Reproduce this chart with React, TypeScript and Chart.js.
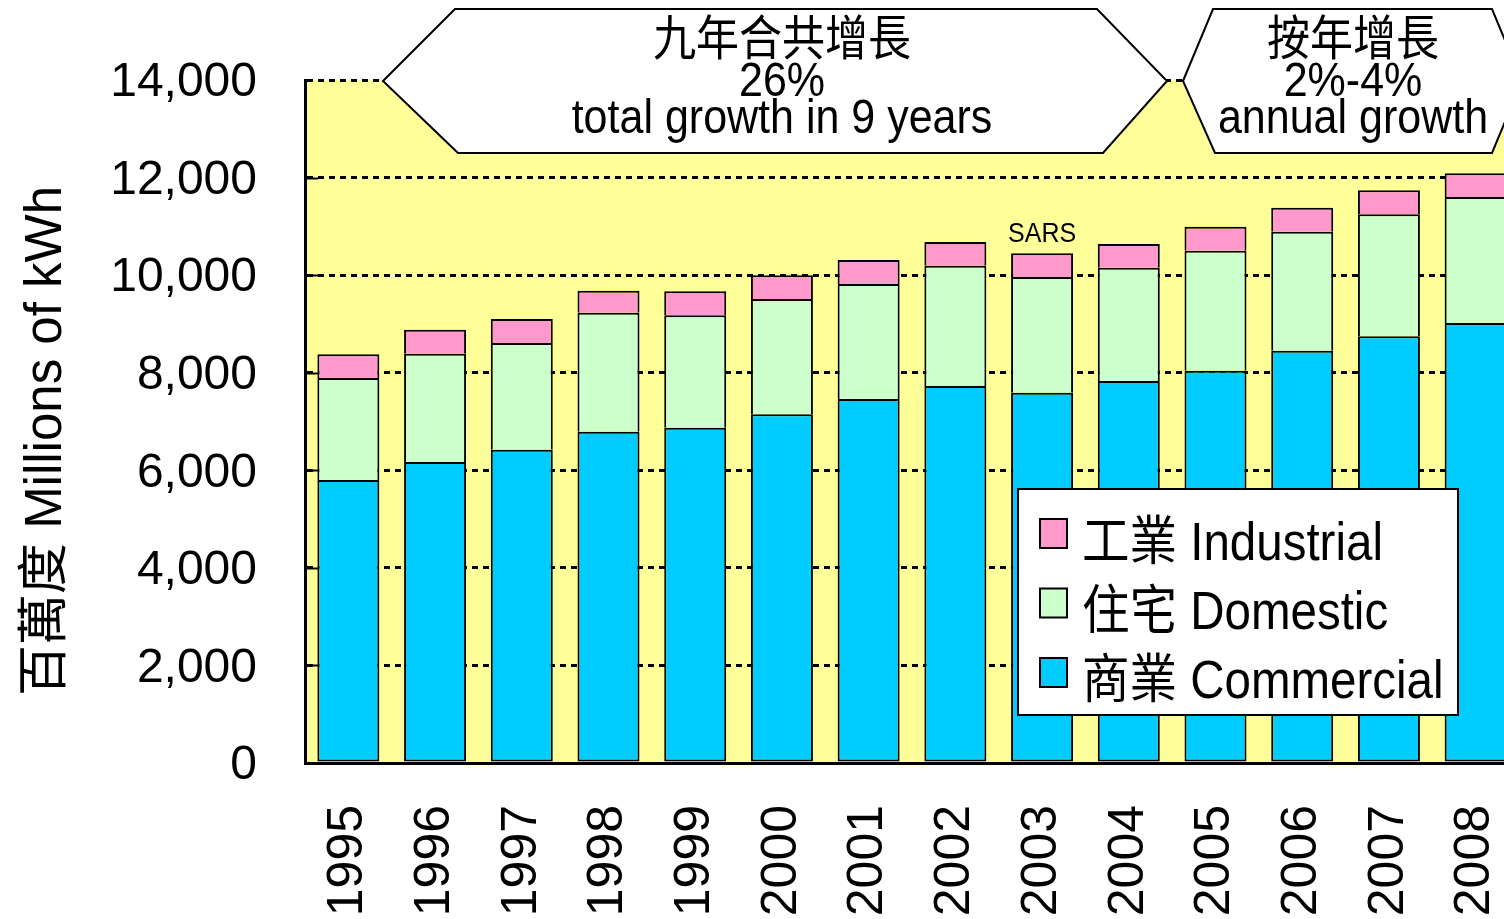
import React, { useEffect, useRef } from 'react';
import { Chart, registerables } from 'chart.js';

Chart.register(...registerables);

// ---- data ----
const years = ['1995', '1996', '1997', '1998', '1999', '2000', '2001', '2002', '2003', '2004', '2005', '2006', '2007', '2008'];
const commercial = [5800, 6170, 6420, 6790, 6870, 7150, 7460, 7730, 7590, 7830, 8040, 8450, 8750, 9020];
const domestic = [2090, 2220, 2190, 2440, 2310, 2360, 2360, 2460, 2370, 2320, 2460, 2440, 2500, 2580];
const industrial = [490, 490, 490, 450, 490, 490, 490, 490, 490, 490, 490, 490, 490, 490];
const seriesLabels = ['商業 Commercial', '住宅 Domestic', '工業 Industrial'];
const seriesColors = ['#00CCFF', '#CCFFCC', '#FF99CC'];
const yMin = 0;
const yMax = 14000;
const yStep = 2000;
const yTitle = '百萬度 Millions of kWh';
const callout1 = ['九年合共增長', '26%', 'total growth in 9 years'];
const callout2 = ['按年增長', '2%-4%', 'annual growth'];
const sarsLabel = 'SARS';
const sarsIndex = 8;

const FONT = "'Liberation Sans', Arial, 'Noto Sans CJK TC', sans-serif";

function stretchedText(ctx: CanvasRenderingContext2D, text: string, x: number, y: number, size: number, sy: number, align: CanvasTextAlign = 'center') {
  ctx.save();
  ctx.translate(x, y);
  ctx.scale(1, sy);
  ctx.font = `${size}px ${FONT}`;
  ctx.textAlign = align;
  ctx.textBaseline = 'alphabetic';
  ctx.fillStyle = '#000';
  ctx.fillText(text, 0, 0);
  ctx.restore();
}

function polygon(ctx: CanvasRenderingContext2D, pts: number[][]) {
  ctx.save();
  ctx.beginPath();
  pts.forEach((p, i) => (i === 0 ? ctx.moveTo(p[0], p[1]) : ctx.lineTo(p[0], p[1])));
  ctx.closePath();
  ctx.fillStyle = '#FFFFFF';
  ctx.fill();
  ctx.lineWidth = 2;
  ctx.strokeStyle = '#000';
  ctx.lineJoin = 'miter';
  ctx.stroke();
  ctx.restore();
}

const decorPlugin = {
  id: 'decor',
  beforeDraw(chart: any) {
    const { ctx, chartArea: a } = chart;
    ctx.save();
    ctx.fillStyle = '#FFFF99';
    ctx.fillRect(a.left, a.top, a.right - a.left, a.bottom - a.top);
    ctx.restore();
  },
  afterDraw(chart: any) {
    const { ctx, chartArea: a } = chart;
    const ys = chart.scales.y;
    const xs = chart.scales.x;

    // inward y tick marks
    ctx.save();
    ctx.strokeStyle = '#000';
    ctx.lineWidth = 2;
    for (let v = yMin + yStep; v < yMax; v += yStep) {
      const py = Math.round(ys.getPixelForValue(v)) + 0.5;
      ctx.beginPath();
      ctx.moveTo(a.left, py);
      ctx.lineTo(a.left + 13, py);
      ctx.stroke();
    }
    ctx.restore();

    // y axis title
    ctx.save();
    ctx.translate(61, 441);
    ctx.rotate(-Math.PI / 2);
    ctx.font = `51px ${FONT}`;
    ctx.textAlign = 'center';
    ctx.textBaseline = 'alphabetic';
    ctx.fillStyle = '#000';
    ctx.fillText(yTitle, 0, 0);
    ctx.restore();

    // callouts
    polygon(ctx, [[383, 81], [455, 9], [1097, 9], [1167, 81], [1103, 153], [458, 153]]);
    polygon(ctx, [[1183, 81], [1213, 9], [1492, 9], [1522, 81], [1492, 153], [1215, 153]]);
    const bl = [55, 96, 133];
    callout1.forEach((t, i) => stretchedText(ctx, t, 782, bl[i], 43, 1.1));
    callout2.forEach((t, i) => stretchedText(ctx, t, 1353, bl[i], 43, 1.1));

    // SARS label
    const total = commercial[sarsIndex] + domestic[sarsIndex] + industrial[sarsIndex];
    stretchedText(ctx, sarsLabel, xs.getPixelForValue(sarsIndex), ys.getPixelForValue(total) - 11, 25, 1.12);

    // legend
    ctx.save();
    ctx.fillStyle = '#FFFFFF';
    ctx.fillRect(1018, 489, 440, 226);
    ctx.lineWidth = 2;
    ctx.strokeStyle = '#000';
    ctx.strokeRect(1018, 489, 440, 226);
    ctx.restore();
    const ds = chart.data.datasets;
    for (let i = 0; i < ds.length; i++) {
      const d = ds[ds.length - 1 - i];
      const top = 519 + i * 69.5;
      ctx.save();
      ctx.fillStyle = d.backgroundColor;
      ctx.fillRect(1040, top, 27, 29);
      ctx.lineWidth = 2;
      ctx.strokeStyle = '#000';
      ctx.strokeRect(1040, top, 27, 29);
      ctx.restore();
      stretchedText(ctx, d.label, 1082, 560 + i * 69, 47.5, 1.12, 'left');
    }
  },
};

export default function App() {
  const ref = useRef<HTMLCanvasElement>(null);

  useEffect(() => {
    document.body.style.margin = '0';
    document.body.style.overflow = 'hidden';
    const canvas = ref.current;
    if (!canvas) return;
    const values = [commercial, domestic, industrial];
    const chart = new Chart(canvas, {
      type: 'bar',
      data: {
        labels: years,
        datasets: values.map((v, i) => ({
          label: seriesLabels[i],
          data: v,
          backgroundColor: seriesColors[i],
          borderColor: '#000000',
          borderWidth: 2,
          borderSkipped: i === 0 ? false : 'bottom',
          barPercentage: 1,
          categoryPercentage: 0.715,
        })),
      },
      options: {
        responsive: false,
        animation: false,
        devicePixelRatio: 1,
        layout: { padding: { top: 80, right: 11, bottom: 0, left: 0 } },
        plugins: {
          legend: { display: false },
          tooltip: { enabled: false },
          title: { display: false },
        },
        scales: {
          x: {
            stacked: true,
            grid: { display: false, drawTicks: false },
            border: { display: true, color: '#000', width: 3 },
            ticks: {
              color: '#000',
              font: { family: FONT, size: 50 },
              minRotation: 90,
              maxRotation: 90,
              autoSkip: false,
              padding: 42,
            },
            afterFit(scale: any) {
              scale.height = 156;
              scale.paddingLeft = 0;
              scale.paddingRight = 0;
            },
          },
          y: {
            stacked: true,
            min: yMin,
            max: yMax,
            grid: { color: '#000', lineWidth: 3, drawTicks: false },
            border: { display: true, color: '#000', width: 3, dash: [6, 5] },
            ticks: {
              stepSize: yStep,
              color: '#000',
              font: { family: FONT, size: 48 },
              padding: 48,
              labelOffset: 3,
              callback: (v: any) => Number(v).toLocaleString('en-US'),
            },
            afterFit(scale: any) {
              scale.width = 305;
              scale.paddingTop = 0;
              scale.paddingBottom = 0;
            },
          },
        },
      },
      plugins: [decorPlugin],
    });
    return () => chart.destroy();
  }, []);

  return (
    <div style={{ position: 'absolute', left: 0, top: 0, width: 1504, height: 919, overflow: 'hidden', background: '#fff' }}>
      <canvas ref={ref} width={1530} height={919} style={{ display: 'block', width: 1530, height: 919 }} />
    </div>
  );
}
